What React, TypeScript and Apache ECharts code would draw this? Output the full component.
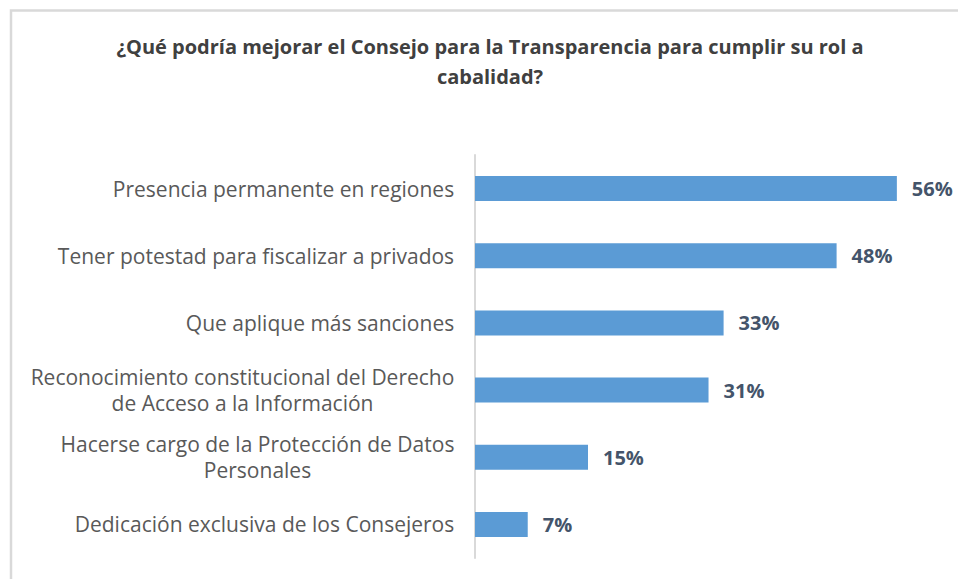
import React, { useEffect, useRef } from "react";
import * as echarts from "echarts";

const titleLines = [
  "¿Qué podría mejorar el Consejo para la Transparencia para cumplir su rol a",
  "cabalidad?",
];

const categories = [
  "Presencia permanente en regiones",
  "Tener potestad para fiscalizar a privados",
  "Que aplique más sanciones",
  "Reconocimiento constitucional del Derecho\nde Acceso a la Información",
  "Hacerse cargo de la Protección de Datos\nPersonales",
  "Dedicación exclusiva de los Consejeros",
];

const values = [56, 48, 33, 31, 15, 7];

const axisMax = 60;

const FONT = "'Open Sans', sans-serif";
const LABEL_SIZE = 21;

function measure(text: string, size: number, weight = "normal"): number {
  const c = document.createElement("canvas").getContext("2d");
  if (!c) return text.length * size * 0.55;
  c.font = `${weight} ${size}px ${FONT}`;
  return c.measureText(text).width;
}

export default function App() {
  const ref = useRef<HTMLDivElement>(null);

  useEffect(() => {
    if (!ref.current) return;
    const chart = echarts.init(ref.current, undefined, { renderer: "svg" });

    const rich: Record<string, any> = {};
    categories.forEach((cat, i) => {
      const w = Math.max(...cat.split("\n").map((l) => measure(l, LABEL_SIZE)));
      rich["l" + i] = {
        width: Math.ceil(w) + 1,
        align: "center",
        fontFamily: FONT,
        fontSize: LABEL_SIZE,
        color: "#595959",
        lineHeight: 26,
      };
    });

    chart.setOption({
      animation: false,
      backgroundColor: "#ffffff",
      graphic: [
        {
          type: "rect",
          shape: { x: 11, y: 10.5, width: 1000, height: 1000 },
          style: { fill: "none", stroke: "#d9d9d9", lineWidth: 2.5 },
          silent: true,
        },
        {
          type: "text",
          x: 490,
          y: 46,
          style: {
            text: titleLines[0],
            fontFamily: FONT,
            fontWeight: "bold",
            fontSize: 20,
            fill: "#404040",
            textAlign: "center",
            textVerticalAlign: "middle",
          },
        },
        {
          type: "text",
          x: 490,
          y: 76,
          style: {
            text: titleLines[1],
            fontFamily: FONT,
            fontWeight: "bold",
            fontSize: 20,
            fill: "#404040",
            textAlign: "center",
            textVerticalAlign: "middle",
          },
        },
      ],
      grid: {
        left: 475,
        top: 155,
        width: 452,
        height: 403,
        containLabel: false,
      },
      xAxis: {
        type: "value",
        min: 0,
        max: axisMax,
        show: false,
      },
      yAxis: {
        type: "category",
        inverse: true,
        data: categories,
        axisLine: { show: true, lineStyle: { color: "#d9d9d9", width: 2 } },
        axisTick: { show: false },
        splitLine: { show: false },
        axisLabel: {
          margin: 20,
          fontFamily: FONT,
          fontSize: LABEL_SIZE,
          color: "#595959",
          lineHeight: 26,
          align: "right",
          formatter: (v: string, i: number) =>
            v
              .split("\n")
              .map((l) => `{l${i}|${l}}`)
              .join("\n"),
          rich,
        },
      },
      series: [
        {
          type: "bar",
          data: values,
          barWidth: 25,
          itemStyle: { color: "#5B9BD5" },
          label: {
            show: true,
            position: "right",
            distance: 15,
            formatter: "{c}%",
            fontFamily: FONT,
            fontWeight: "bold",
            fontSize: 20,
            color: "#44546A",
          },
        },
      ],
    });
    return () => chart.dispose();
  }, []);

  return (
    <div
      ref={ref}
      style={{ position: "absolute", left: 0, top: 0, width: 958, height: 579 }}
    />
  );
}
